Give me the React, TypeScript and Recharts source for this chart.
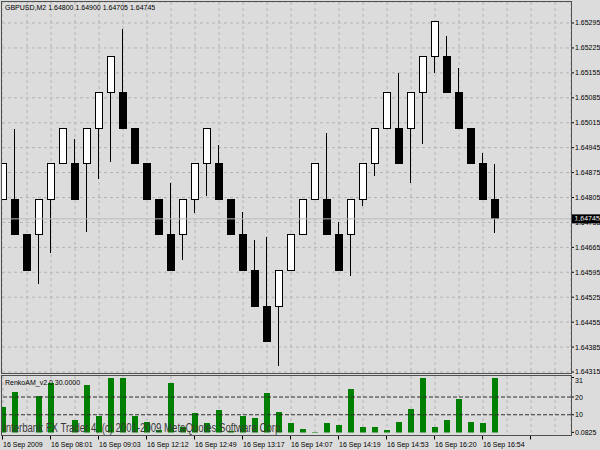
import {
  Bar,
  CartesianGrid,
  ComposedChart,
  ReferenceLine,
  XAxis,
  YAxis,
} from "recharts";

const FONT = "'Liberation Sans', Arial, sans-serif";
const BG = "#dcdcdc";
const GRID = "#b4b4b4";
const FRAME = "#505050";

// renko bricks, GBPUSD M2
const opens = [
  1.648, 1.648, 1.647, 1.647, 1.648, 1.649, 1.649, 1.649, 1.65, 1.651, 1.651,
  1.65, 1.649, 1.648, 1.647, 1.647, 1.648, 1.649, 1.649, 1.648, 1.647, 1.646,
  1.645, 1.645, 1.646, 1.647, 1.648, 1.648, 1.647, 1.647, 1.648, 1.649, 1.65,
  1.65, 1.65, 1.651, 1.652, 1.652, 1.651, 1.65, 1.649, 1.648,
];
const closes = [
  1.649, 1.647, 1.646, 1.648, 1.649, 1.65, 1.648, 1.65, 1.651, 1.652, 1.65,
  1.649, 1.648, 1.647, 1.646, 1.648, 1.649, 1.65, 1.648, 1.647, 1.646, 1.645,
  1.644, 1.646, 1.647, 1.648, 1.649, 1.647, 1.646, 1.648, 1.649, 1.65, 1.651,
  1.649, 1.651, 1.652, 1.653, 1.651, 1.65, 1.649, 1.648, 1.64745,
];
const highs = [
  1.649, 1.64997, 1.647, 1.648, 1.649, 1.65, 1.64969, 1.65, 1.651, 1.652,
  1.65278, 1.65, 1.649, 1.648, 1.64846, 1.648, 1.649, 1.65, 1.64952, 1.648,
  1.64764, 1.64686, 1.64694, 1.646, 1.647, 1.648, 1.649, 1.64986, 1.64736,
  1.648, 1.649, 1.65, 1.651, 1.65155, 1.651, 1.652, 1.653, 1.65258, 1.65169,
  1.65, 1.6493, 1.649,
];
const lows = [
  1.648, 1.647, 1.646, 1.64562, 1.64649, 1.649, 1.648, 1.64708, 1.64857,
  1.64905, 1.65, 1.649, 1.648, 1.647, 1.646, 1.64629, 1.64761, 1.64809, 1.648,
  1.647, 1.646, 1.645, 1.644, 1.64332, 1.646, 1.647, 1.648, 1.647, 1.646,
  1.64585, 1.64781, 1.64865, 1.65, 1.649, 1.64846, 1.64955, 1.65155, 1.651,
  1.65, 1.649, 1.648, 1.64705,
];
const volumes = [
  14.5, 22.6, 0, 20.4, 27.9, 0, 7, 26.8, 9.3, 31, 31, 9.3, 6.1, 1.3, 27.9, 3.3,
  11.1, 5.4, 12.6, 1, 9.3, 8.4, 22.5, 11.3, 5.2, 1.8, 0.0825, 5.2, 4.1, 24.7,
  3.3, 3.3, 1.3, 6.1, 13.4, 31, 3.3, 7, 18.7, 6.1, 5.4, 31,
];
const timeLabels = [
  "16 Sep 2009",
  "16 Sep 08:01",
  "16 Sep 09:03",
  "16 Sep 12:12",
  "16 Sep 12:49",
  "16 Sep 13:17",
  "16 Sep 14:07",
  "16 Sep 14:19",
  "16 Sep 14:53",
  "16 Sep 16:20",
  "16 Sep 16:54",
];
const priceTicks = [
  1.64315, 1.64385, 1.64455, 1.64525, 1.64595, 1.64665, 1.64735, 1.64805,
  1.64875, 1.64945, 1.65015, 1.65085, 1.65155, 1.65225, 1.65295,
];
const volumeTicks = [0.0825, 10, 20, 31];
const volumeLevels = [10, 20];

const bars = opens.map((o, i) => ({
  i,
  open: o,
  close: closes[i],
  high: highs[i],
  low: lows[i],
  vol: volumes[i],
}));
const last = bars[bars.length - 1];

// 12px per brick across a 569px plot, first brick 1px in from the edge
const xDomain = [-1 / 12, 569 / 12 - 1 / 12];
const gridIdx = Array.from({ length: 24 }, (_, k) => k * 2);

function Brick(props: any) {
  const { x, y, width, height, payload } = props;
  if (height == null || !payload) return <g />;
  const cx = Math.round(x + width / 2);
  const top = Math.min(y, y + height);
  const h = Math.abs(height);
  const k = h / (payload.high - payload.low);
  const yOf = (p: number) => top + (payload.high - p) * k;
  const bTop = yOf(Math.max(payload.open, payload.close));
  const bBot = yOf(Math.min(payload.open, payload.close));
  const up = payload.close > payload.open;
  return (
    <g shapeRendering="crispEdges">
      <line x1={cx - 0.5} x2={cx - 0.5} y1={top} y2={top + h} stroke="#000" />
      <rect
        x={cx - 3.5}
        y={bTop}
        width={7}
        height={bBot - bTop}
        fill={up ? "#fff" : "#000"}
        stroke="#000"
      />
    </g>
  );
}

function VolBar(props: any) {
  const { x, y, width, height } = props;
  if (height == null || height <= 0) return <g />;
  const cx = Math.round(x + width / 2);
  const h = Math.max(height, 1);
  return (
    <rect
      x={cx - 3}
      y={y + height - h}
      width={6}
      height={h}
      fill="#008000"
      shapeRendering="crispEdges"
    />
  );
}

function PriceTag(props: any) {
  const vb = props.viewBox;
  if (!vb) return <g />;
  const x = vb.x + vb.width;
  return (
    <g>
      <rect x={x} y={vb.y - 4.5} width={29} height={9} fill="#000" />
      <text x={x + 3.5} y={vb.y + 2.5} fontSize={7} fill="#fff" fontFamily={FONT}>
        {last.close.toFixed(5)}
      </text>
    </g>
  );
}

function TimeTick(props: any) {
  const { x, y, payload } = props;
  const i = payload.value;
  if (i % 4 !== 0) return <g />;
  return (
    <g>
      <line x1={x - 0.5} x2={x - 0.5} y1={y + 3} y2={y + 7} stroke="#000" />
      <text x={x} y={y + 14.5} fontSize={7} fontFamily={FONT} fill="#000">
        {timeLabels[i / 4]}
      </text>
    </g>
  );
}

function VolTick(props: any) {
  const { x, y, payload } = props;
  const v = payload.value;
  const label = Number.isInteger(v) ? String(v) : v.toFixed(4);
  const dy = v === 31 ? 3 : 0;
  return (
    <g>
      <line x1={x} x2={x + 3} y1={y} y2={y} stroke="#000" />
      <text x={x + 4} y={y + 2.5 + dy} fontSize={7} fontFamily={FONT} fill="#000">
        {label}
      </text>
    </g>
  );
}

export default function App() {
  return (
    <div
      style={{
        position: "absolute",
        left: 0,
        top: 0,
        width: 600,
        height: 450,
        background: BG,
        fontFamily: FONT,
        overflow: "hidden",
      }}
    >
      <div style={{ position: "absolute", left: 0, top: 0 }}>
        <ComposedChart
          width={600}
          height={374}
          data={bars}
          margin={{ top: 2, right: 0, bottom: 2, left: 2 }}
        >
          <CartesianGrid stroke={GRID} strokeDasharray="3 3" />
          <XAxis
            dataKey="i"
            type="number"
            domain={xDomain}
            allowDataOverflow
            ticks={gridIdx}
            hide
          />
          <YAxis
            orientation="right"
            width={29}
            type="number"
            domain={[1.64315, 1.65354]}
            allowDataOverflow
            ticks={priceTicks}
            interval={0}
            axisLine={false}
            tickSize={3}
            tickMargin={1}
            tickLine={{ stroke: "#000" }}
            tick={{ fontSize: 7, fill: "#000", fontFamily: FONT }}
            tickFormatter={(v) => v.toFixed(5)}
          />
          <ReferenceLine
            y={last.close}
            stroke="#bcbcbc"
            label={(p: any) => <PriceTag {...p} />}
          />
          <Bar
            dataKey={(d: any) => [d.low, d.high]}
            barSize={8}
            shape={(p: any) => <Brick {...p} />}
            isAnimationActive={false}
          />
        </ComposedChart>
      </div>

      <div style={{ position: "absolute", left: 0, top: 374 }}>
        <ComposedChart
          width={600}
          height={76}
          data={bars}
          margin={{ top: 2, right: 0, bottom: 0, left: 2 }}
        >
          <CartesianGrid stroke={GRID} strokeDasharray="3 3" horizontal={false} />
          <XAxis
            dataKey="i"
            type="number"
            domain={xDomain}
            allowDataOverflow
            ticks={gridIdx}
            interval={0}
            height={17.5}
            axisLine={false}
            tickLine={false}
            tickSize={0}
            tickMargin={0}
            tick={(p: any) => <TimeTick {...p} />}
          />
          <YAxis
            orientation="right"
            width={29}
            type="number"
            domain={[0, 31.85]}
            allowDataOverflow
            ticks={volumeTicks}
            interval={0}
            axisLine={false}
            tickLine={false}
            tickSize={0}
            tickMargin={0}
            tick={(p: any) => <VolTick {...p} />}
          />
          {volumeLevels.map((v) => (
            <ReferenceLine key={v} y={v} stroke="#303030" strokeDasharray="4 2" />
          ))}
          <Bar
            dataKey="vol"
            barSize={6}
            shape={(p: any) => <VolBar {...p} />}
            isAnimationActive={false}
          />
        </ComposedChart>
      </div>

      <svg
        width={600}
        height={450}
        style={{ position: "absolute", left: 0, top: 0, pointerEvents: "none" }}
      >
        <rect x={1.5} y={1.5} width={570} height={372} fill="none" stroke={FRAME} />
        <rect x={1.5} y={375.5} width={570} height={60} fill="none" stroke={FRAME} />
        <text x={5} y={10} fontSize={7} fontFamily={FONT} fill="#000">
          {`GBPUSD,M2  ${last.open.toFixed(5)} ${last.high.toFixed(5)} ${last.low.toFixed(5)} ${last.close.toFixed(5)}`}
        </text>
        <text x={5} y={385} fontSize={7} fontFamily={FONT} fill="#000">
          RenkoAM_v2.0 30.0000
        </text>
        <text
          x={3}
          y={432}
          fontSize={12}
          fontFamily={FONT}
          fill="#3a3a3a"
          textLength={280}
          lengthAdjust="spacingAndGlyphs"
        >
          Interbank FX Trader 4, (c) 2001-2009 MetaQuotes Software Corp.
        </text>
      </svg>
    </div>
  );
}
